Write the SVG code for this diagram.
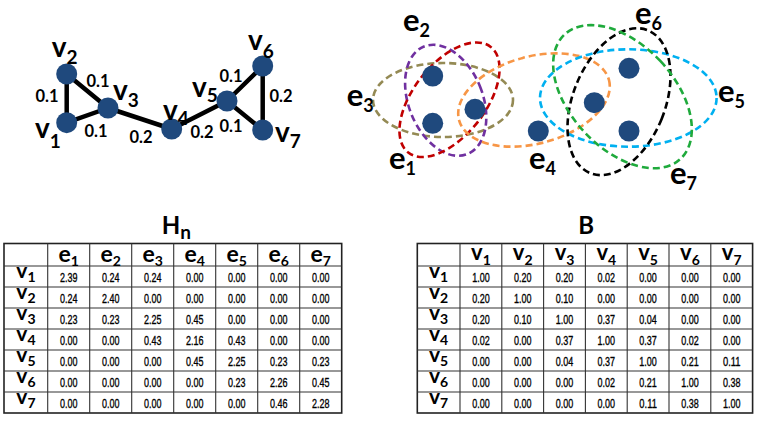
<svg xmlns="http://www.w3.org/2000/svg" width="764" height="425" viewBox="0 0 764 425">
<style>
.lbl{font-family:Lato,"Liberation Sans",sans-serif;font-weight:bold;fill:#000}
.big{font-size:28px}
.bsub{font-size:19px}
.ebig{font-size:31px}
.esub{font-size:18px}
.w{font-family:Lato,"Liberation Sans",sans-serif;font-weight:bold;font-size:16.5px;text-anchor:middle}
.node{fill:#1F497D}
.edge{stroke:#000;stroke-width:4.5;stroke-linecap:round}
.he{fill:none;stroke-width:2.6;stroke-dasharray:7 4}
.grid{stroke:#333;stroke-width:1.1;fill:none}
.outer{stroke:#222;stroke-width:1.6;fill:none}
.num{font-family:"Liberation Sans",Arial,sans-serif;font-size:13px;text-anchor:middle;fill:#000;stroke:#000;stroke-width:0.35}
.th{font-family:Lato,"Liberation Sans",sans-serif;font-weight:bold;text-anchor:middle}
.title{font-family:Lato,"Liberation Sans",sans-serif;font-weight:bold;font-size:24px}
</style>

<!-- Left graph -->
<g id="graph-edges">
<line class="edge" x1="66.7" y1="122.7" x2="66.7" y2="74"/>
<line class="edge" x1="66.7" y1="74" x2="108" y2="108"/>
<line class="edge" x1="66.7" y1="122.7" x2="108" y2="108"/>
<line class="edge" x1="108" y1="108" x2="171.7" y2="129"/>
<line class="edge" x1="171.7" y1="129" x2="227" y2="101"/>
<line class="edge" x1="227" y1="101" x2="262.7" y2="66"/>
<line class="edge" x1="227" y1="101" x2="262.7" y2="130"/>
<line class="edge" x1="262.7" y1="66" x2="262.7" y2="130"/>
</g>
<g id="edge-weights">
<text class="w" x="47" y="101.7">0.1</text>
<text class="w" x="98" y="86.7">0.1</text>
<text class="w" x="96" y="136.7">0.1</text>
<text class="w" x="141" y="143">0.2</text>
<text class="w" x="202" y="138">0.2</text>
<text class="w" x="231" y="81.7">0.1</text>
<text class="w" x="231" y="131.7">0.1</text>
<text class="w" x="281" y="101.7">0.2</text>
</g>
<g id="gv1"><circle class="node" cx="66.7" cy="122.7" r="10.5"/><text class="lbl big" x="35" y="138">v<tspan class="bsub" dy="10">1</tspan></text></g>
<g id="gv2"><circle class="node" cx="66.7" cy="74" r="10.5"/><text class="lbl big" x="51.7" y="56.7">v<tspan class="bsub" dy="7.3">2</tspan></text></g>
<g id="gv3"><circle class="node" cx="108" cy="108" r="10.5"/><text class="lbl big" x="113" y="100">v<tspan class="bsub" dy="7">3</tspan></text></g>
<g id="gv4"><circle class="node" cx="171.7" cy="129" r="10.5"/><text class="lbl big" x="163" y="120">v<tspan class="bsub" dy="5">4</tspan></text></g>
<g id="gv5"><circle class="node" cx="227" cy="101" r="10.5"/><text class="lbl big" x="192" y="97">v<tspan class="bsub" dy="5">5</tspan></text></g>
<g id="gv6"><circle class="node" cx="262.7" cy="66" r="10.5"/><text class="lbl big" x="248" y="50">v<tspan class="bsub" dy="8">6</tspan></text></g>
<g id="gv7"><circle class="node" cx="262.7" cy="130" r="10.5"/><text class="lbl big" x="275" y="142">v<tspan class="bsub" dy="6">7</tspan></text></g>

<!-- Hypergraph -->
<g id="hyperedges">
<ellipse class="he" stroke="#948A54" cx="443" cy="100" rx="70" ry="37"/>
<ellipse class="he" stroke="#7030A0" cx="445.7" cy="100.3" rx="37" ry="58" transform="rotate(-22 445.7 100.3)"/>
<ellipse class="he" stroke="#C00000" cx="449.5" cy="99.7" rx="36" ry="67" transform="rotate(38 449.5 99.7)"/>
<ellipse class="he" stroke="#F79646" cx="534" cy="100" rx="77.6" ry="43.6" transform="rotate(-15 534 100)"/>
<ellipse class="he" stroke="#00B0F0" cx="628.3" cy="98" rx="88.3" ry="48.7"/>
<ellipse class="he" stroke="#000000" cx="619" cy="101.7" rx="46" ry="77" transform="rotate(22 619 101.7)"/>
<ellipse class="he" stroke="#1FAA3C" cx="622.5" cy="96.7" rx="52" ry="85" transform="rotate(-43 622.5 96.7)"/>
</g>
<g id="hyperedge-labels">
<text class="lbl ebig" x="346.7" y="105.5">e<tspan class="esub" dy="6">3</tspan></text>
<text class="lbl ebig" x="403" y="30.5">e<tspan class="esub" dy="6">2</tspan></text>
<text class="lbl ebig" x="389" y="169">e<tspan class="esub" dy="6">1</tspan></text>
<text class="lbl ebig" x="529" y="169">e<tspan class="esub" dy="6">4</tspan></text>
<text class="lbl ebig" x="718" y="102">e<tspan class="esub" dy="6">5</tspan></text>
<text class="lbl ebig" x="635" y="23.5">e<tspan class="esub" dy="6">6</tspan></text>
<text class="lbl ebig" x="670" y="184">e<tspan class="esub" dy="6">7</tspan></text>
</g>
<g id="hv1"><circle class="node" cx="432.7" cy="76" r="10.5"/></g>
<g id="hv2"><circle class="node" cx="432.7" cy="123.3" r="10.5"/></g>
<g id="hv3"><circle class="node" cx="475" cy="109.3" r="10.5"/></g>
<g id="hv4"><circle class="node" cx="538.3" cy="131" r="10.5"/></g>
<g id="hv5"><circle class="node" cx="594.3" cy="102.7" r="10.5"/></g>
<g id="hv6"><circle class="node" cx="629" cy="68.3" r="10.5"/></g>
<g id="hv7"><circle class="node" cx="629" cy="131" r="10.5"/></g>

<!-- Hn table -->
<g id="table-Hn">
<text class="title" x="161.7" y="233.5">H<tspan font-size="19" dy="5">n</tspan></text>
<rect class="outer" x="4" y="243.5" width="337.7" height="169.5"/>
<path class="grid" d="M47.7 243.5V413M89.7 243.5V413M131.7 243.5V413M173.7 243.5V413M215.7 243.5V413M257.7 243.5V413M299.7 243.5V413M4 266H341.7M4 287H341.7M4 308H341.7M4 329H341.7M4 350H341.7M4 371H341.7M4 392H341.7"/>
<g class="th" font-size="23">
<text x="68.7" y="261.5">e<tspan font-size="14" dy="4">1</tspan></text>
<text x="110.7" y="261.5">e<tspan font-size="14" dy="4">2</tspan></text>
<text x="152.7" y="261.5">e<tspan font-size="14" dy="4">3</tspan></text>
<text x="194.7" y="261.5">e<tspan font-size="14" dy="4">4</tspan></text>
<text x="236.7" y="261.5">e<tspan font-size="14" dy="4">5</tspan></text>
<text x="278.7" y="261.5">e<tspan font-size="14" dy="4">6</tspan></text>
<text x="320.7" y="261.5">e<tspan font-size="14" dy="4">7</tspan></text>
</g>
<g class="th" font-size="21">
<text x="25.9" y="278.3">v<tspan font-size="14" dy="4">1</tspan></text>
<text x="25.9" y="299.3">v<tspan font-size="14" dy="4">2</tspan></text>
<text x="25.9" y="320.3">v<tspan font-size="14" dy="4">3</tspan></text>
<text x="25.9" y="341.3">v<tspan font-size="14" dy="4">4</tspan></text>
<text x="25.9" y="362.3">v<tspan font-size="14" dy="4">5</tspan></text>
<text x="25.9" y="383.3">v<tspan font-size="14" dy="4">6</tspan></text>
<text x="25.9" y="404.3">v<tspan font-size="14" dy="4">7</tspan></text>
</g>
<g class="num">
<text x="68.7" y="281.5" textLength="17.5" lengthAdjust="spacingAndGlyphs">2.39</text>
<text x="110.7" y="281.5" textLength="17.5" lengthAdjust="spacingAndGlyphs">0.24</text>
<text x="152.7" y="281.5" textLength="17.5" lengthAdjust="spacingAndGlyphs">0.24</text>
<text x="194.7" y="281.5" textLength="17.5" lengthAdjust="spacingAndGlyphs">0.00</text>
<text x="236.7" y="281.5" textLength="17.5" lengthAdjust="spacingAndGlyphs">0.00</text>
<text x="278.7" y="281.5" textLength="17.5" lengthAdjust="spacingAndGlyphs">0.00</text>
<text x="320.7" y="281.5" textLength="17.5" lengthAdjust="spacingAndGlyphs">0.00</text>
<text x="68.7" y="302.5" textLength="17.5" lengthAdjust="spacingAndGlyphs">0.24</text>
<text x="110.7" y="302.5" textLength="17.5" lengthAdjust="spacingAndGlyphs">2.40</text>
<text x="152.7" y="302.5" textLength="17.5" lengthAdjust="spacingAndGlyphs">0.00</text>
<text x="194.7" y="302.5" textLength="17.5" lengthAdjust="spacingAndGlyphs">0.00</text>
<text x="236.7" y="302.5" textLength="17.5" lengthAdjust="spacingAndGlyphs">0.00</text>
<text x="278.7" y="302.5" textLength="17.5" lengthAdjust="spacingAndGlyphs">0.00</text>
<text x="320.7" y="302.5" textLength="17.5" lengthAdjust="spacingAndGlyphs">0.00</text>
<text x="68.7" y="323.5" textLength="17.5" lengthAdjust="spacingAndGlyphs">0.23</text>
<text x="110.7" y="323.5" textLength="17.5" lengthAdjust="spacingAndGlyphs">0.23</text>
<text x="152.7" y="323.5" textLength="17.5" lengthAdjust="spacingAndGlyphs">2.25</text>
<text x="194.7" y="323.5" textLength="17.5" lengthAdjust="spacingAndGlyphs">0.45</text>
<text x="236.7" y="323.5" textLength="17.5" lengthAdjust="spacingAndGlyphs">0.00</text>
<text x="278.7" y="323.5" textLength="17.5" lengthAdjust="spacingAndGlyphs">0.00</text>
<text x="320.7" y="323.5" textLength="17.5" lengthAdjust="spacingAndGlyphs">0.00</text>
<text x="68.7" y="344.5" textLength="17.5" lengthAdjust="spacingAndGlyphs">0.00</text>
<text x="110.7" y="344.5" textLength="17.5" lengthAdjust="spacingAndGlyphs">0.00</text>
<text x="152.7" y="344.5" textLength="17.5" lengthAdjust="spacingAndGlyphs">0.43</text>
<text x="194.7" y="344.5" textLength="17.5" lengthAdjust="spacingAndGlyphs">2.16</text>
<text x="236.7" y="344.5" textLength="17.5" lengthAdjust="spacingAndGlyphs">0.43</text>
<text x="278.7" y="344.5" textLength="17.5" lengthAdjust="spacingAndGlyphs">0.00</text>
<text x="320.7" y="344.5" textLength="17.5" lengthAdjust="spacingAndGlyphs">0.00</text>
<text x="68.7" y="365.5" textLength="17.5" lengthAdjust="spacingAndGlyphs">0.00</text>
<text x="110.7" y="365.5" textLength="17.5" lengthAdjust="spacingAndGlyphs">0.00</text>
<text x="152.7" y="365.5" textLength="17.5" lengthAdjust="spacingAndGlyphs">0.00</text>
<text x="194.7" y="365.5" textLength="17.5" lengthAdjust="spacingAndGlyphs">0.45</text>
<text x="236.7" y="365.5" textLength="17.5" lengthAdjust="spacingAndGlyphs">2.25</text>
<text x="278.7" y="365.5" textLength="17.5" lengthAdjust="spacingAndGlyphs">0.23</text>
<text x="320.7" y="365.5" textLength="17.5" lengthAdjust="spacingAndGlyphs">0.23</text>
<text x="68.7" y="386.5" textLength="17.5" lengthAdjust="spacingAndGlyphs">0.00</text>
<text x="110.7" y="386.5" textLength="17.5" lengthAdjust="spacingAndGlyphs">0.00</text>
<text x="152.7" y="386.5" textLength="17.5" lengthAdjust="spacingAndGlyphs">0.00</text>
<text x="194.7" y="386.5" textLength="17.5" lengthAdjust="spacingAndGlyphs">0.00</text>
<text x="236.7" y="386.5" textLength="17.5" lengthAdjust="spacingAndGlyphs">0.23</text>
<text x="278.7" y="386.5" textLength="17.5" lengthAdjust="spacingAndGlyphs">2.26</text>
<text x="320.7" y="386.5" textLength="17.5" lengthAdjust="spacingAndGlyphs">0.45</text>
<text x="68.7" y="407.5" textLength="17.5" lengthAdjust="spacingAndGlyphs">0.00</text>
<text x="110.7" y="407.5" textLength="17.5" lengthAdjust="spacingAndGlyphs">0.00</text>
<text x="152.7" y="407.5" textLength="17.5" lengthAdjust="spacingAndGlyphs">0.00</text>
<text x="194.7" y="407.5" textLength="17.5" lengthAdjust="spacingAndGlyphs">0.00</text>
<text x="236.7" y="407.5" textLength="17.5" lengthAdjust="spacingAndGlyphs">0.00</text>
<text x="278.7" y="407.5" textLength="17.5" lengthAdjust="spacingAndGlyphs">0.46</text>
<text x="320.7" y="407.5" textLength="17.5" lengthAdjust="spacingAndGlyphs">2.28</text>
</g>
</g>

<!-- B table -->
<g id="table-B">
<text class="title" x="578.3" y="233.5">B</text>
<rect class="outer" x="417.3" y="243.5" width="335.3" height="169.5"/>
<path class="grid" d="M460 243.5V413M501.8 243.5V413M543.6 243.5V413M585.4 243.5V413M627.2 243.5V413M669 243.5V413M710.8 243.5V413M417.3 266H752.6M417.3 287H752.6M417.3 308H752.6M417.3 329H752.6M417.3 350H752.6M417.3 371H752.6M417.3 392H752.6"/>
<g class="th" font-size="22">
<text x="480.9" y="259.5">v<tspan font-size="14" dy="5.5">1</tspan></text>
<text x="522.7" y="259.5">v<tspan font-size="14" dy="5.5">2</tspan></text>
<text x="564.5" y="259.5">v<tspan font-size="14" dy="5.5">3</tspan></text>
<text x="606.3" y="259.5">v<tspan font-size="14" dy="5.5">4</tspan></text>
<text x="648.1" y="259.5">v<tspan font-size="14" dy="5.5">5</tspan></text>
<text x="689.9" y="259.5">v<tspan font-size="14" dy="5.5">6</tspan></text>
<text x="731.7" y="259.5">v<tspan font-size="14" dy="5.5">7</tspan></text>
</g>
<g class="th" font-size="21">
<text x="438.6" y="278.3">v<tspan font-size="14" dy="4">1</tspan></text>
<text x="438.6" y="299.3">v<tspan font-size="14" dy="4">2</tspan></text>
<text x="438.6" y="320.3">v<tspan font-size="14" dy="4">3</tspan></text>
<text x="438.6" y="341.3">v<tspan font-size="14" dy="4">4</tspan></text>
<text x="438.6" y="362.3">v<tspan font-size="14" dy="4">5</tspan></text>
<text x="438.6" y="383.3">v<tspan font-size="14" dy="4">6</tspan></text>
<text x="438.6" y="404.3">v<tspan font-size="14" dy="4">7</tspan></text>
</g>
<g class="num">
<text x="480.9" y="281.5" textLength="17.5" lengthAdjust="spacingAndGlyphs">1.00</text>
<text x="522.7" y="281.5" textLength="17.5" lengthAdjust="spacingAndGlyphs">0.20</text>
<text x="564.5" y="281.5" textLength="17.5" lengthAdjust="spacingAndGlyphs">0.20</text>
<text x="606.3" y="281.5" textLength="17.5" lengthAdjust="spacingAndGlyphs">0.02</text>
<text x="648.1" y="281.5" textLength="17.5" lengthAdjust="spacingAndGlyphs">0.00</text>
<text x="689.9" y="281.5" textLength="17.5" lengthAdjust="spacingAndGlyphs">0.00</text>
<text x="731.7" y="281.5" textLength="17.5" lengthAdjust="spacingAndGlyphs">0.00</text>
<text x="480.9" y="302.5" textLength="17.5" lengthAdjust="spacingAndGlyphs">0.20</text>
<text x="522.7" y="302.5" textLength="17.5" lengthAdjust="spacingAndGlyphs">1.00</text>
<text x="564.5" y="302.5" textLength="17.5" lengthAdjust="spacingAndGlyphs">0.10</text>
<text x="606.3" y="302.5" textLength="17.5" lengthAdjust="spacingAndGlyphs">0.00</text>
<text x="648.1" y="302.5" textLength="17.5" lengthAdjust="spacingAndGlyphs">0.00</text>
<text x="689.9" y="302.5" textLength="17.5" lengthAdjust="spacingAndGlyphs">0.00</text>
<text x="731.7" y="302.5" textLength="17.5" lengthAdjust="spacingAndGlyphs">0.00</text>
<text x="480.9" y="323.5" textLength="17.5" lengthAdjust="spacingAndGlyphs">0.20</text>
<text x="522.7" y="323.5" textLength="17.5" lengthAdjust="spacingAndGlyphs">0.10</text>
<text x="564.5" y="323.5" textLength="17.5" lengthAdjust="spacingAndGlyphs">1.00</text>
<text x="606.3" y="323.5" textLength="17.5" lengthAdjust="spacingAndGlyphs">0.37</text>
<text x="648.1" y="323.5" textLength="17.5" lengthAdjust="spacingAndGlyphs">0.04</text>
<text x="689.9" y="323.5" textLength="17.5" lengthAdjust="spacingAndGlyphs">0.00</text>
<text x="731.7" y="323.5" textLength="17.5" lengthAdjust="spacingAndGlyphs">0.00</text>
<text x="480.9" y="344.5" textLength="17.5" lengthAdjust="spacingAndGlyphs">0.02</text>
<text x="522.7" y="344.5" textLength="17.5" lengthAdjust="spacingAndGlyphs">0.00</text>
<text x="564.5" y="344.5" textLength="17.5" lengthAdjust="spacingAndGlyphs">0.37</text>
<text x="606.3" y="344.5" textLength="17.5" lengthAdjust="spacingAndGlyphs">1.00</text>
<text x="648.1" y="344.5" textLength="17.5" lengthAdjust="spacingAndGlyphs">0.37</text>
<text x="689.9" y="344.5" textLength="17.5" lengthAdjust="spacingAndGlyphs">0.02</text>
<text x="731.7" y="344.5" textLength="17.5" lengthAdjust="spacingAndGlyphs">0.00</text>
<text x="480.9" y="365.5" textLength="17.5" lengthAdjust="spacingAndGlyphs">0.00</text>
<text x="522.7" y="365.5" textLength="17.5" lengthAdjust="spacingAndGlyphs">0.00</text>
<text x="564.5" y="365.5" textLength="17.5" lengthAdjust="spacingAndGlyphs">0.04</text>
<text x="606.3" y="365.5" textLength="17.5" lengthAdjust="spacingAndGlyphs">0.37</text>
<text x="648.1" y="365.5" textLength="17.5" lengthAdjust="spacingAndGlyphs">1.00</text>
<text x="689.9" y="365.5" textLength="17.5" lengthAdjust="spacingAndGlyphs">0.21</text>
<text x="731.7" y="365.5" textLength="17.5" lengthAdjust="spacingAndGlyphs">0.11</text>
<text x="480.9" y="386.5" textLength="17.5" lengthAdjust="spacingAndGlyphs">0.00</text>
<text x="522.7" y="386.5" textLength="17.5" lengthAdjust="spacingAndGlyphs">0.00</text>
<text x="564.5" y="386.5" textLength="17.5" lengthAdjust="spacingAndGlyphs">0.00</text>
<text x="606.3" y="386.5" textLength="17.5" lengthAdjust="spacingAndGlyphs">0.02</text>
<text x="648.1" y="386.5" textLength="17.5" lengthAdjust="spacingAndGlyphs">0.21</text>
<text x="689.9" y="386.5" textLength="17.5" lengthAdjust="spacingAndGlyphs">1.00</text>
<text x="731.7" y="386.5" textLength="17.5" lengthAdjust="spacingAndGlyphs">0.38</text>
<text x="480.9" y="407.5" textLength="17.5" lengthAdjust="spacingAndGlyphs">0.00</text>
<text x="522.7" y="407.5" textLength="17.5" lengthAdjust="spacingAndGlyphs">0.00</text>
<text x="564.5" y="407.5" textLength="17.5" lengthAdjust="spacingAndGlyphs">0.00</text>
<text x="606.3" y="407.5" textLength="17.5" lengthAdjust="spacingAndGlyphs">0.00</text>
<text x="648.1" y="407.5" textLength="17.5" lengthAdjust="spacingAndGlyphs">0.11</text>
<text x="689.9" y="407.5" textLength="17.5" lengthAdjust="spacingAndGlyphs">0.38</text>
<text x="731.7" y="407.5" textLength="17.5" lengthAdjust="spacingAndGlyphs">1.00</text>
</g>
</g>
</svg>
